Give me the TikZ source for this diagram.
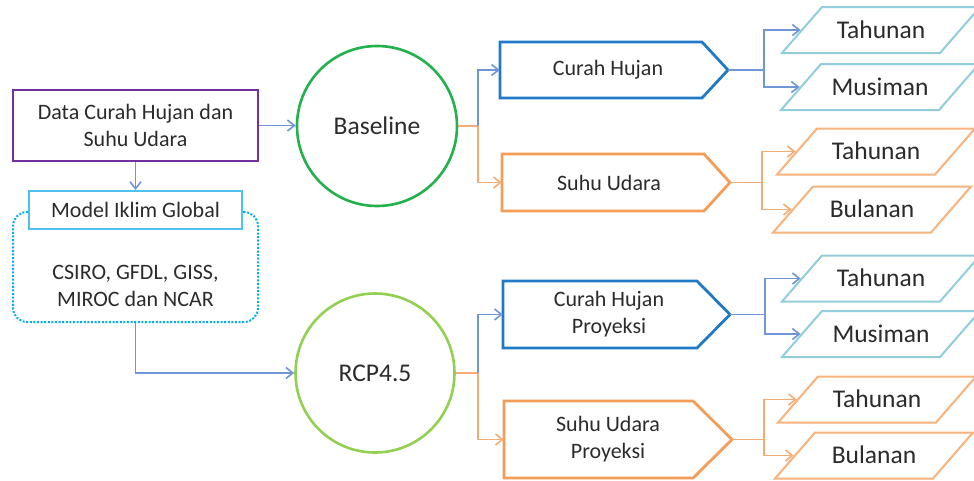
\documentclass[tikz,border=0pt]{standalone}
\usepackage{fontspec}
\setmainfont{Carlito}
\usetikzlibrary{arrows.meta,shapes.geometric,calc}
\definecolor{txtc}{HTML}{2B2B2B}
\definecolor{purp}{HTML}{7030A0}
\definecolor{mblue}{HTML}{4FC1F0}
\definecolor{dblue}{HTML}{00B0F0}
\definecolor{bgreen}{HTML}{22B14C}
\definecolor{lgreen}{HTML}{92D050}
\definecolor{pblue}{HTML}{2079C7}
\definecolor{porange}{HTML}{F59D56}
\definecolor{conblue}{HTML}{7096D6}
\definecolor{conorange}{HTML}{F5AC74}
\definecolor{parblue}{HTML}{92CDDC}
\definecolor{parorange}{HTML}{F8B27C}
\begin{document}
\begin{tikzpicture}[x=1pt,y=-1pt,
  every node/.style={text=txtc},
  lbl/.style={font=\fontsize{22}{27}\selectfont, align=center},
  lblbig/.style={font=\fontsize{25.5}{30}\selectfont},
  bline/.style={draw=conblue, line width=1.6pt},
  oline/.style={draw=conorange, line width=1.6pt},
  arr/.style={-{Straight Barb[length=7pt,width=11pt]}},
  pentbox/.style={rectangle, inner sep=0, minimum height=#1, lbl},
  pentblue/.style={draw=pblue, line width=2.8pt},
  pentorange/.style={draw=porange, line width=2.8pt},
  para/.style={trapezium, trapezium left angle=49, trapezium right angle=131,
    trapezium stretches body=true, minimum width=198,
    text height=19.5pt, text depth=3.5pt, inner ysep=11.5pt, inner xsep=0pt,
    line width=2pt, fill=white, lblbig},
  parab/.style={para, draw=parblue},
  parao/.style={para, draw=parorange}
]
\useasboundingbox (0,0) rectangle (974,480);
\clip (0,0) rectangle (974,480);

% left column
\node[draw=purp, line width=2.6pt, minimum width=245, minimum height=71, inner sep=0, lbl]
  (data) at (135.5,125.5) {Data Curah Hujan dan\\Suhu Udara};
\node[draw=dblue, line width=2pt, dash pattern=on 2pt off 1.6pt, rounded corners=14pt,
  minimum width=245, minimum height=110, inner sep=0] (gcm) at (135.5,267) {};
\node[draw=mblue, line width=2pt, fill=white, minimum width=213, minimum height=38, inner sep=0, lbl]
  (model) at (135.5,210) {Model Iklim Global};
\node[lbl] (gcmtxt) at (135.5,286) {CSIRO, GFDL, GISS,\\MIROC dan NCAR};

% circles
\node[circle, draw=bgreen, line width=2.6pt, minimum size=160, inner sep=0, lblbig]
  (base) at (377,126) {Baseline};
\node[circle, draw=lgreen, line width=2.6pt, minimum size=159, inner sep=0, lblbig]
  (rcp) at (375,373) {RCP4.5};

% pentagons
\draw[pentblue] (500,42) -- (702,42) -- (728,70) -- (702,98) -- (500,98) -- cycle;
\node[pentbox=56, minimum width=216] (ch1) at (608,70) {Curah Hujan};
\coordinate (ch1tip) at (728,70);

\draw[pentorange] (502,154) -- (704,154) -- (730,182.5) -- (704,211) -- (502,211) -- cycle;
\node[pentbox=57, minimum width=214] (su1) at (609,182.5) {Suhu Udara};
\coordinate (su1tip) at (730,182.5);

\draw[pentblue] (503,281) -- (697,281) -- (730,314.5) -- (697,348) -- (503,348) -- cycle;
\node[pentbox=67, minimum width=212] (ch2) at (609,314.5) {Curah Hujan\\Proyeksi};
\coordinate (ch2tip) at (730,314.5);

\draw[pentorange] (504,401) -- (693,401) -- (732,439.5) -- (693,478) -- (504,478) -- cycle;
\node[pentbox=77, minimum width=208] (su2) at (608,439.5) {Suhu Udara\\Proyeksi};
\coordinate (su2tip) at (732,439.5);

% parallelograms
\node[parab] (p1) at (881,30) {Tahunan};
\node[parab] (p2) at (880,87) {Musiman};
\node[parao] (p3) at (876,151.5) {Tahunan};
\node[parao] (p4) at (872,209.5) {Bulanan};
\node[parab] (p5) at (881,278.5) {Tahunan};
\node[parab] (p6) at (881,334) {Musiman};
\node[parao] (p7) at (877,399.5) {Tahunan};
\node[parao] (p8) at (874,455.5) {Bulanan};

% connectors left
\draw[bline, arr] (data.east) -- (data.east -| base.west);
\draw[bline, arr] (data.south) -- (model.north);
\draw[bline, arr] (gcm.south) |- (rcp.west);

% from circles
\coordinate (bj) at (478,126);
\draw[oline] (base.east) -- (bj);
\draw[bline, arr] (bj) |- (ch1.west);
\draw[oline, arr] (bj) |- (su1.west);

\coordinate (rj) at (478,373);
\draw[oline] (rcp.east) -- (rj);
\draw[bline, arr] (rj) |- (ch2.west);
\draw[oline, arr] (rj) |- (su2.west);

% from pentagons
\coordinate (j1) at (764,70);
\draw[bline] (ch1tip) -- (j1);
\draw[bline, arr] (j1) |- (p1);
\draw[bline, arr] (j1) |- (p2);

\coordinate (j2) at (762,182.5);
\draw[oline] (su1tip) -- (j2);
\draw[oline, arr] (j2) |- (p3);
\draw[oline, arr] (j2) |- (p4);

\coordinate (j3) at (765,314.5);
\draw[bline] (ch2tip) -- (j3);
\draw[bline, arr] (j3) |- (p5);
\draw[bline, arr] (j3) |- (p6);

\coordinate (j4) at (764,439.5);
\draw[oline] (su2tip) -- (j4);
\draw[oline, arr] (j4) |- (p7);
\draw[oline, arr] (j4) |- (p8);
\end{tikzpicture}
\end{document}
